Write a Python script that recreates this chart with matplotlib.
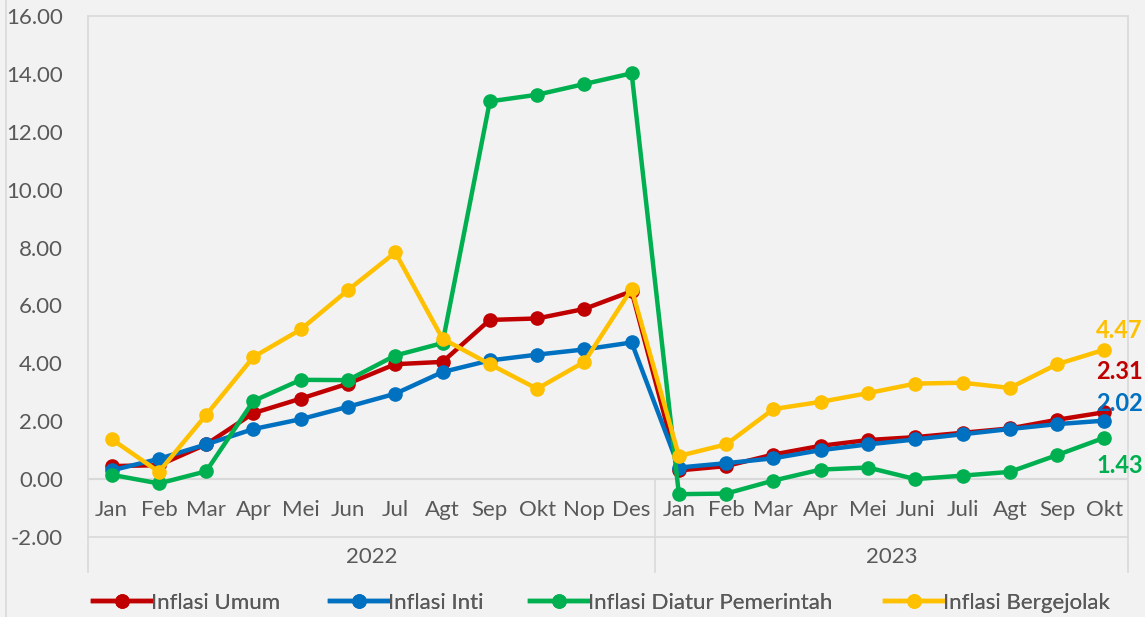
import matplotlib.pyplot as plt
import numpy as np
from matplotlib import rcParams
from matplotlib.lines import Line2D

rcParams['font.family'] = ['Lato', 'DejaVu Sans']
rcParams['font.size'] = 15

months_2022 = ['Jan', 'Feb', 'Mar', 'Apr', 'Mei', 'Jun', 'Jul', 'Agt', 'Sep', 'Okt', 'Nop', 'Des']
months_2023 = ['Jan', 'Feb', 'Mar', 'Apr', 'Mei', 'Juni', 'Juli', 'Agt', 'Sep', 'Okt']
years = ['2022', '2023']

umum = [0.45, 0.48, 1.20, 2.28, 2.78, 3.30, 3.97, 4.05, 5.50, 5.55, 5.88, 6.49,
        0.30, 0.45, 0.85, 1.15, 1.35, 1.45, 1.60, 1.75, 2.05, 2.31]
inti = [0.30, 0.70, 1.20, 1.73, 2.07, 2.50, 2.95, 3.70, 4.10, 4.30, 4.48, 4.72,
        0.40, 0.55, 0.72, 1.00, 1.20, 1.37, 1.55, 1.73, 1.90, 2.02]
diatur = [0.15, -0.15, 0.27, 2.70, 3.43, 3.42, 4.27, 4.70, 13.05, 13.28, 13.65, 14.02,
          -0.52, -0.50, -0.05, 0.33, 0.40, 0.00, 0.12, 0.25, 0.83, 1.43]
bergejolak = [1.38, 0.25, 2.22, 4.22, 5.17, 6.53, 7.83, 4.85, 3.97, 3.12, 4.05, 6.57,
              0.80, 1.20, 2.42, 2.67, 2.97, 3.30, 3.33, 3.15, 3.97, 4.47]

series = [
    ('Inflasi Umum', umum, '#C00000'),
    ('Inflasi Inti', inti, '#0070C0'),
    ('Inflasi Diatur Pemerintah', diatur, '#00B050'),
    ('Inflasi Bergejolak', bergejolak, '#FFC000'),
]
# offsets (points) for the last-value labels
label_offsets = [(11, 29), (11, 12), (11, -20), (11, 14)]
# left edge (px) of each legend entry
legend_x = [93, 330, 530, 885]

bg = '#F2F2F2'
grid = '#D9D9D9'
txt = '#595959'

fig = plt.figure(figsize=(11.45, 6.17), dpi=100, facecolor=bg)
ax = fig.add_axes([88/1145, 80/617, 1040/1145, 521/617], facecolor=bg)

labels = months_2022 + months_2023
x = np.arange(len(labels)) + 0.5

handles = []
for (name, vals, col), off in zip(series, label_offsets):
    h, = ax.plot(x, vals, color=col, lw=3.2, marker='o', ms=9.5, label=name, zorder=3)
    handles.append(h)
    ax.annotate(f'{vals[-1]:.2f}', (x[-1], vals[-1]), xytext=off, textcoords='offset points',
                ha='center', va='center', color=col, fontweight='bold', fontsize=17)

ax.set_xlim(0, len(labels))
ax.set_ylim(-2, 16)
ax.set_yticks(np.arange(-2, 17, 2))
ax.set_yticklabels([f'{v:.2f}' for v in np.arange(-2, 17, 2)])
ax.set_xticks([])
ax.tick_params(axis='y', length=0, pad=18, labelcolor=txt, labelsize=16)

for s in ax.spines.values():
    s.set_color(grid)
    s.set_linewidth(1.2)
ax.axhline(0, color=grid, lw=1.5, zorder=1)

# category labels
for xi, lab in zip(x, labels):
    ax.text(xi, -1.07, lab, ha='center', va='center', color=txt, fontsize=16)
trans = ax.get_xaxis_transform()
ax.text(6, -0.038, years[0], ha='center', va='center', color=txt, fontsize=16, transform=trans)
ax.text(17, -0.038, years[1], ha='center', va='center', color=txt, fontsize=16, transform=trans)
for xv in [0, 12, 22]:
    ax.plot([xv, xv], [0.0, -0.067], transform=trans, color=grid, lw=1.2, clip_on=False)
ax.plot([12, 12], [0.0, 2 / 18], transform=trans, color=grid, lw=1.2, clip_on=False)

fig.add_artist(Line2D([6/1145, 6/1145], [0, 1], color=grid, lw=1.2))

for h, lx in zip(handles, legend_x):
    leg = fig.legend(handles=[h], loc='center left', bbox_to_anchor=(lx/1145, 14/617),
                     frameon=False, borderpad=0, borderaxespad=0,
                     handlelength=2.6, handletextpad=0.0, fontsize=16, labelcolor=txt)
    fig.add_artist(leg)

fig.savefig('out.png', dpi=100, facecolor=bg)
